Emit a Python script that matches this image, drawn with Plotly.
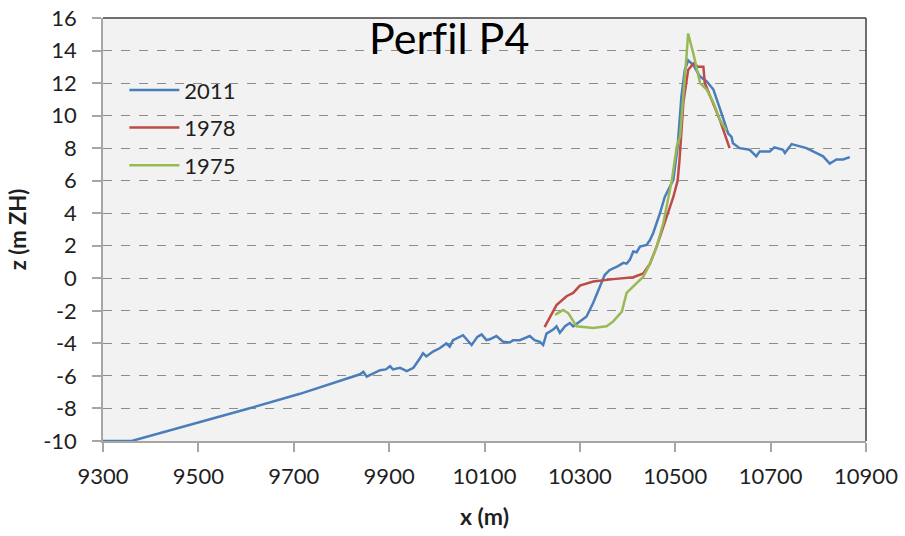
import plotly.graph_objects as go

# perfil 2011
x_2011 = [9300, 9360, 9600, 9713, 9839, 9846, 9853, 9866, 9881, 9893, 9902, 9908, 9923, 9937,
          9951, 9965, 9971, 9978, 9992, 10006, 10020, 10027, 10034, 10055, 10064, 10073, 10085,
          10094, 10104, 10111, 10125, 10132, 10139, 10153, 10160, 10174, 10185, 10195, 10205,
          10216, 10223, 10230, 10244, 10251, 10258, 10269, 10279, 10286, 10300, 10314, 10328,
          10342, 10352, 10362, 10370, 10380, 10391, 10398, 10405, 10412, 10419, 10426, 10440,
          10447, 10454, 10461, 10468, 10478, 10489, 10496, 10505, 10513, 10520, 10527, 10538,
          10552, 10566, 10580, 10594, 10603, 10611, 10618, 10621, 10635, 10656, 10670, 10677,
          10698, 10708, 10726, 10730, 10744, 10761, 10775, 10789, 10810, 10824, 10838, 10852, 10866]
z_2011 = [-10, -10, -8.05, -7.1, -5.9, -5.75, -6.05, -5.85, -5.65, -5.6, -5.4, -5.6, -5.5, -5.7,
          -5.5, -4.9, -4.6, -4.8, -4.5, -4.3, -4.0, -4.2, -3.8, -3.5, -3.8, -4.1, -3.6,
          -3.45, -3.8, -3.75, -3.55, -3.7, -3.9, -3.95, -3.8, -3.8, -3.65, -3.55, -3.8,
          -3.9, -4.1, -3.4, -3.15, -2.95, -3.35, -2.95, -2.75, -2.95, -2.65, -2.35, -1.5,
          -0.5, 0.2, 0.5, 0.6, 0.75, 0.95, 0.9, 1.15, 1.65, 1.6, 1.95, 2.05,
          2.35, 2.8, 3.4, 4.0, 5.0, 5.6, 6.05, 8.1, 11.2, 12.8, 13.4, 13.1,
          12.4, 12.1, 11.6, 10.4, 9.6, 8.9, 8.7, 8.3, 8.0, 7.9, 7.5, 7.8,
          7.8, 8.05, 7.9, 7.7, 8.25, 8.1, 8.0, 7.8, 7.5, 7.05, 7.3, 7.3, 7.45]

# perfil 1978
x_1978 = [10226, 10240, 10251, 10272, 10286, 10300, 10328, 10370, 10412, 10433, 10447, 10461,
          10482, 10496, 10505, 10509, 10517, 10527, 10538, 10548, 10559, 10562, 10576, 10594, 10614]
z_1978 = [-3.0, -2.2, -1.65, -1.1, -0.9, -0.45, -0.2, -0.05, 0.07, 0.3, 0.9, 1.95,
          3.8, 5.0, 6.0, 7.3, 10.8, 12.8, 13.2, 13.0, 13.0, 12.0, 11.0, 9.7, 8.0]

# perfil 1975
x_1975 = [10248, 10265, 10276, 10293, 10328, 10356, 10370, 10388, 10398, 10412, 10433, 10447,
          10461, 10475, 10486, 10493, 10503, 10510, 10524, 10527, 10538, 10552, 10566, 10580,
          10594, 10607]
z_1975 = [-2.25, -1.95, -2.15, -2.95, -3.05, -2.95, -2.65, -2.05, -0.9, -0.5, 0.1, 0.9,
          1.95, 3.4, 5.0, 6.05, 8.1, 8.7, 13.8, 15.05, 13.8, 12.0, 11.6, 10.8,
          9.7, 9.1]

x_ticks = list(range(9300, 10901, 200))
x_ticktext = [str(v) for v in x_ticks]
y_ticks = list(range(-10, 17, 2))
y_ticktext = [str(v) for v in y_ticks]

fnt = "Lato, 'Open Sans', sans-serif"
txt = "#1F1F1F"

fig = go.Figure()
fig.add_trace(go.Scatter(x=x_2011, y=z_2011, mode="lines", name="2011", legendgroup="a",
                         line=dict(color="#4A7EBB", width=2.5)))
fig.add_trace(go.Scatter(x=x_1978, y=z_1978, mode="lines", name="1978", legendgroup="b",
                         line=dict(color="#BE4B48", width=2.5)))
fig.add_trace(go.Scatter(x=x_1975, y=z_1975, mode="lines", name="1975", legendgroup="c",
                         line=dict(color="#98B954", width=2.5)))

fig.update_xaxes(range=[9300, 10900], tickvals=x_ticks, ticktext=x_ticktext,
                 showgrid=False, zeroline=False, automargin=False, ticklabeloverflow="allow",
                 showline=True, linecolor="#A6A6A6", linewidth=1.5,
                 ticks="outside", ticklen=9, tickcolor="#A6A6A6", tickwidth=1.5,
                 ticklabelstandoff=6,
                 tickfont=dict(size=22, color=txt, family=fnt),
                 title=dict(text="<b>x (m)</b>", font=dict(size=23, color=txt, family=fnt),
                            standoff=21))
fig.update_yaxes(range=[-10, 16], tickvals=y_ticks, ticktext=y_ticktext,
                 showgrid=True, gridcolor="#8C8C8C",
                 griddash="dash", gridwidth=1, zeroline=False, automargin=False,
                 ticklabeloverflow="allow",
                 showline=True, linecolor="#A6A6A6", linewidth=1.5,
                 ticks="outside", ticklen=9, tickcolor="#A6A6A6", tickwidth=1.5,
                 ticklabelstandoff=11,
                 tickfont=dict(size=22, color=txt, family=fnt),
                 title=dict(text="<b>z (m ZH)</b>", font=dict(size=22, color=txt, family=fnt),
                            standoff=10))

# borde superior y derecho del área de trazado
fig.add_shape(type="line", xref="paper", yref="paper", x0=0, x1=1, y0=1, y1=1,
              line=dict(color="#404040", width=1.5))
fig.add_shape(type="line", xref="paper", yref="paper", x0=1, x1=1, y0=0, y1=1,
              line=dict(color="#404040", width=1.5))

fig.add_annotation(text="Perf\u200cil P4", xref="paper", yref="paper", x=0.453, y=0.955,
                   xanchor="center", yanchor="middle",
                   showarrow=False, font=dict(size=43, color="#000000", family=fnt))

fig.update_layout(
    width=905, height=536,
    margin=dict(l=103, r=39, t=18, b=95),
    plot_bgcolor="#F2F2F2",
    paper_bgcolor="white",
    showlegend=True,
    legend=dict(x=0.028, y=0.879, xanchor="left", yanchor="top", bgcolor="rgba(0,0,0,0)",
                traceorder="grouped", tracegroupgap=6, itemwidth=50,
                font=dict(size=22, color=txt, family=fnt)),
)

# sin el margen de 8 px del body la figura ocupa toda la ventana
fig.write_html("out.html", config={"displayModeBar": False},
               post_script="document.body.style.margin='0';")
